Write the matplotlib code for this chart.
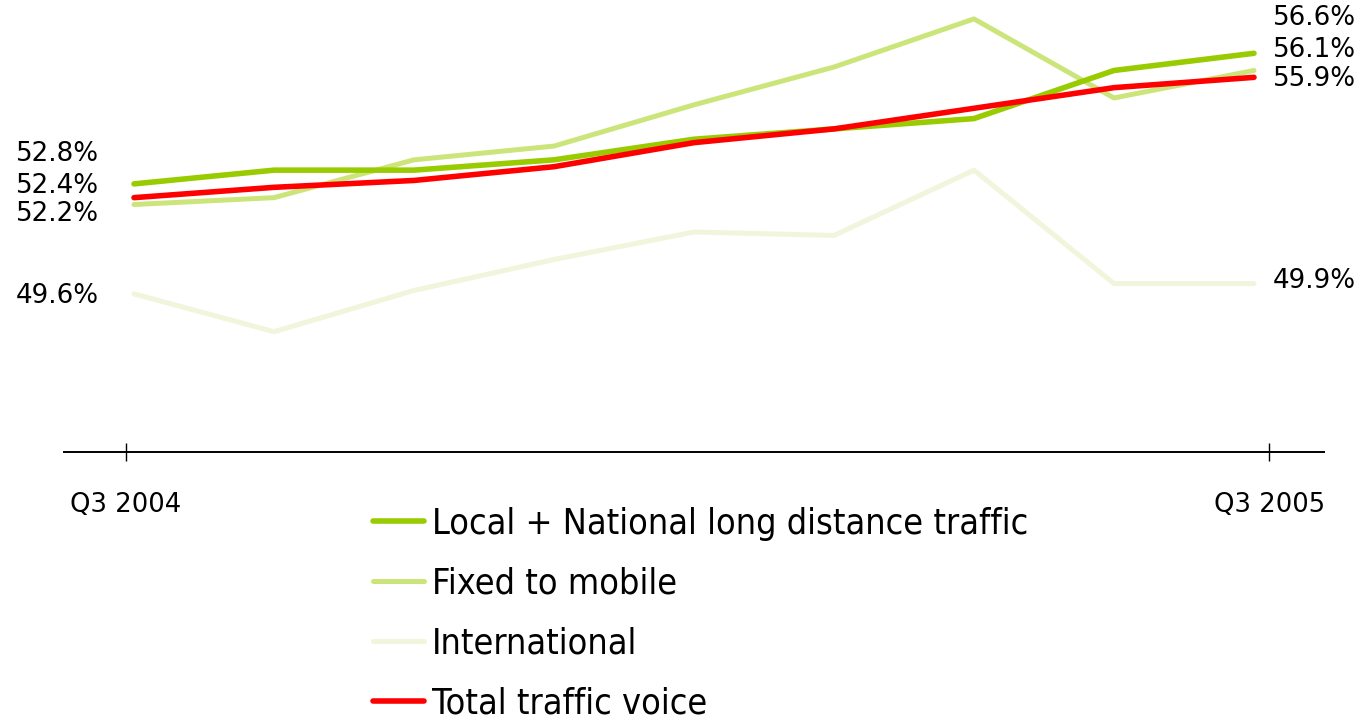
import matplotlib
matplotlib.use("Agg")
import matplotlib.pyplot as plt
from matplotlib import font_manager

# share of traffic, Q3 2004 .. Q3 2005 (9 readings)
n_points = 9
local_national = [52.8, 53.2, 53.2, 53.5, 54.1, 54.4, 54.7, 56.1, 56.6]
fixed_to_mobile = [52.2, 52.4, 53.5, 53.9, 55.1, 56.2, 57.6, 55.3, 56.1]
international = [49.6, 48.5, 49.7, 50.6, 51.4, 51.3, 53.2, 49.9, 49.9]
total_voice = [52.4, 52.7, 52.9, 53.3, 54.0, 54.4, 55.0, 55.6, 55.9]

tick_labels = ["Q3 2004", "Q3 2005"]
names = ["Local + National long distance traffic", "Fixed to mobile",
         "International", "Total traffic voice"]


def main():
    plt.rcParams["font.family"] = "DejaVu Sans"
    fig = plt.figure(figsize=(13.68, 7.2), dpi=100)
    ax = fig.add_axes([64 / 1368, 268 / 720, 1260 / 1368, 452 / 720])

    x = list(range(n_points))
    series = [
        # data, colour, width, left label offset px, right label offset px
        (international, "#f0f5dc", 3.6, -2, 3),
        (fixed_to_mobile, "#cce57a", 3.6, -9, 20),
        (local_national, "#99cc00", 4.0, 30, 35),
        (total_voice, "#ff0000", 4.0, 12, -2),
    ]
    for vals, col, lw, dl, dr in series:
        ax.plot(x, vals, color=col, lw=lw, solid_capstyle="round",
                solid_joinstyle="round")
        ax.annotate(f"{vals[0]:.1f}%", (x[0], vals[0]), xytext=(-35, dl),
                    textcoords="offset pixels", ha="right", va="center",
                    fontsize=18.8)
        ax.annotate(f"{vals[-1]:.1f}%", (x[-1], vals[-1]), xytext=(19, dr),
                    textcoords="offset pixels", ha="left", va="center",
                    fontsize=18.8)

    ax.set_xlim(-0.5, n_points - 0.5)
    ax.set_ylim(45, 58.15)
    for s in ["left", "right", "top"]:
        ax.spines[s].set_visible(False)
    ax.spines["bottom"].set_linewidth(1.4)
    ax.set_yticks([])
    ax.set_xticks([-0.06, n_points - 1 + 0.11])
    ax.set_xticklabels(tick_labels, fontsize=18.6)
    ax.tick_params(axis="x", direction="inout", length=13, width=1.0, pad=22)

    # legend font: condensed DejaVu if available, else Liberation Sans
    cond = [f for f in font_manager.fontManager.ttflist
            if f.name == "DejaVu Sans" and f.stretch == "condensed" and f.style == "normal"
            and f.weight in (400, "normal", "regular")]
    if cond:
        lprop = font_manager.FontProperties(fname=cond[0].fname, size=25.8)
    else:
        lprop = font_manager.FontProperties(family="Liberation Sans", size=26.6)

    handles = [ax.lines[2], ax.lines[1], ax.lines[0], ax.lines[3]]
    fig.legend(handles, names, loc="upper left",
               bbox_to_anchor=(373 / 1368, 1 - 507 / 720), frameon=False,
               prop=lprop, handlelength=1.43, handletextpad=0.22,
               labelspacing=0.72, borderpad=0, borderaxespad=0)

    fig.savefig("out.png", dpi=100)


if __name__ == "__main__":
    main()
